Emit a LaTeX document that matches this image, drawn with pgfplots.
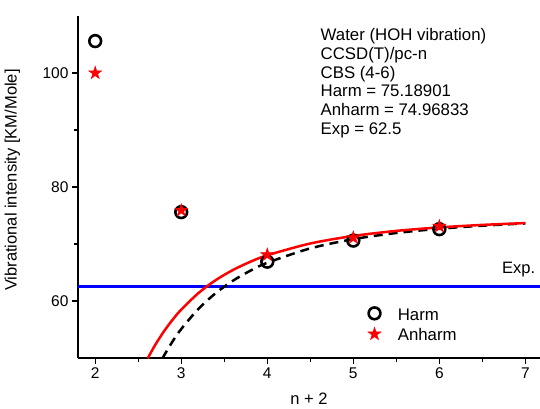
\documentclass[border=0pt]{standalone}
\usepackage{fontspec}
\setmainfont{Liberation Sans}
\usepackage{pgfplots}
\pgfplotsset{compat=1.18}
\usetikzlibrary{plotmarks}

\pgfdeclareplotmark{fstar}{%
  \pgfpathmoveto{\pgfqpointpolar{90}{\pgfplotmarksize}}%
  \pgfpathlineto{\pgfqpointpolar{126}{0.382\pgfplotmarksize}}%
  \pgfpathlineto{\pgfqpointpolar{162}{\pgfplotmarksize}}%
  \pgfpathlineto{\pgfqpointpolar{198}{0.382\pgfplotmarksize}}%
  \pgfpathlineto{\pgfqpointpolar{234}{\pgfplotmarksize}}%
  \pgfpathlineto{\pgfqpointpolar{270}{0.382\pgfplotmarksize}}%
  \pgfpathlineto{\pgfqpointpolar{306}{\pgfplotmarksize}}%
  \pgfpathlineto{\pgfqpointpolar{342}{0.382\pgfplotmarksize}}%
  \pgfpathlineto{\pgfqpointpolar{18}{\pgfplotmarksize}}%
  \pgfpathlineto{\pgfqpointpolar{54}{0.382\pgfplotmarksize}}%
  \pgfpathclose
  \pgfusepathqfillstroke}

\pgfplotsset{mylegimg/.style={legend image code/.code={\path (0bp,0bp) (32bp,0bp);\draw[mark repeat=2,mark phase=2,##1] plot coordinates {(0bp,0bp)(12bp,0bp)(32bp,0bp)};}}}

\newcommand{\txt}{\fontsize{16.8bp}{19bp}\selectfont}
\newcommand{\lbl}{\fontsize{16.5bp}{19bp}\selectfont}
\newcommand{\tck}{\fontsize{15.5bp}{18bp}\selectfont}

\begin{document}
\begin{tikzpicture}
\path[use as bounding box] (0,0) rectangle (540bp,409bp);
\begin{axis}[
  at={(78bp,51bp)}, anchor=south west,
  scale only axis, width=462bp, height=342bp,
  xmin=1.8, xmax=7.17, ymin=50, ymax=110,
  axis x line*=bottom, axis y line*=left,
  axis line style={line width=1.3bp, black},
  xtick={2,3,4,5,6,7}, minor xtick={2.5,3.5,4.5,5.5,6.5},
  ytick={60,80,100}, minor ytick={70,90},
  tick align=outside, major tick length=6bp, minor tick length=4bp,
  every tick/.style={line width=1.1bp, black},
  /pgf/number format/assume math mode=true,
  ticklabel style={font=\tck},
  xlabel={n + 2}, ylabel={Vibrational intensity [KM/Mole]},
  label style={font=\lbl},
  xlabel style={at={(axis description cs:0.5,-0.1374)}, anchor=base},
  ylabel style={at={(axis description cs:-0.142,0.52)}, anchor=center},
  legend style={draw=none, fill=none, font=\txt, inner sep=0pt,
    at={(axis description cs:0.6126,0.1003)}, anchor=west,
    nodes={inner sep=2bp, text height=13.4bp, text depth=0bp},
    row sep=3.3bp},
  legend cell align=left,
  clip=true,
]
\addplot[blue, line width=2.6bp, forget plot] coordinates {(1.8,62.5) (7.17,62.5)};
\addplot[black, line width=2.5bp, dash pattern=on 9bp off 6bp, smooth, forget plot] coordinates {
(2.78,49.92) (2.9,52.93) (3.0,55.08) (3.2,58.62) (3.4,61.37) (3.6,63.55) (3.8,65.29)
(4.0,66.71) (4.5,69.23) (5.0,70.85) (5.5,71.93) (6.0,72.68) (6.5,73.21) (7.0,73.61)};
\addplot[red, line width=2.5bp, smooth, forget plot] coordinates {
(2.61,49.94) (2.7,52.36) (2.8,54.70) (2.9,56.72) (3.0,58.49) (3.2,61.39) (3.4,63.65)
(3.6,65.43) (3.8,66.86) (4.0,68.02) (4.5,70.09) (5.0,71.41) (5.5,72.30) (6.0,72.91)
(6.5,73.35) (7.0,73.67)};
\addplot[only marks, mark=o, mark size=5.9bp, black, line width=2.6bp, mylegimg]
  coordinates {(2,105.6) (3,75.6) (4,66.9) (5,70.6) (6,72.6)};
\addlegendentry{Harm}
\addplot[only marks, mark=fstar, mark size=6.8bp, red, fill=red, line width=0.5bp, mylegimg]
  coordinates {(2,100.0) (3,75.9) (4,68.1) (5,71.1) (6,73.1)};
\addlegendentry{Anharm}
\end{axis}
\node[anchor=base west, inner sep=0pt, font=\txt] at (320.5bp,368.5bp) {Water (HOH vibration)};
\node[anchor=base west, inner sep=0pt, font=\txt] at (320.5bp,349.7bp) {CCSD(T)/pc-n};
\node[anchor=base west, inner sep=0pt, font=\txt] at (320.5bp,330.9bp) {CBS (4-6)};
\node[anchor=base west, inner sep=0pt, font=\txt] at (320.5bp,312.1bp) {Harm = 75.18901};
\node[anchor=base west, inner sep=0pt, font=\txt] at (320.5bp,293.3bp) {Anharm = 74.96833};
\node[anchor=base west, inner sep=0pt, font=\txt] at (320.5bp,274.5bp) {Exp = 62.5};
\node[anchor=base west, inner sep=0pt, font=\lbl] at (502bp,135.3bp) {Exp.};
\end{tikzpicture}
\end{document}
